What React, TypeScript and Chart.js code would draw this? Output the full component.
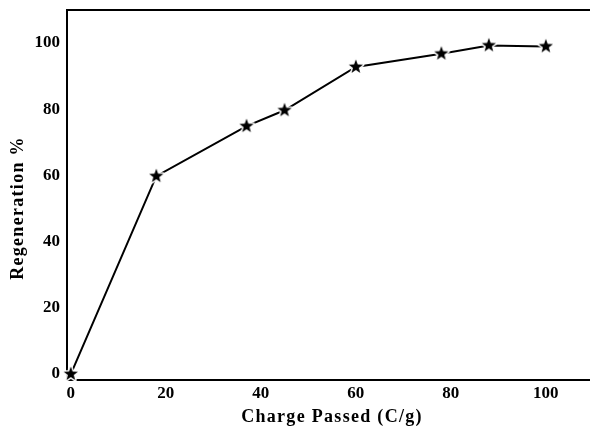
import React, { useEffect, useRef } from "react";
import { Chart, registerables } from "chart.js";

Chart.register(...registerables);

const CHARGE = [0, 18, 37, 45, 60, 78, 88, 100];
const REGEN = [0, 59.8, 74.9, 79.7, 92.8, 96.8, 99.3, 99.0];
const X_TICKS = [0, 20, 40, 60, 80, 100];
const Y_TICKS = [0, 20, 40, 60, 80, 100];
const X_TITLE = "Charge Passed (C/g)";
const Y_TITLE = "Regeneration %";

const FONT = '"Liberation Serif", "Times New Roman", serif';

function makeStar(): HTMLCanvasElement {
  const c = document.createElement("canvas");
  c.width = 20;
  c.height = 20;
  const ctx = c.getContext("2d")!;
  const cx = 10, cy = 10, R = 7.4, r = 3.1;
  ctx.beginPath();
  for (let i = 0; i < 10; i++) {
    const rad = i % 2 === 0 ? R : r;
    const a = -Math.PI / 2 + (i * Math.PI) / 5;
    const x = cx + rad * Math.cos(a);
    const y = cy + rad * Math.sin(a);
    if (i === 0) ctx.moveTo(x, y);
    else ctx.lineTo(x, y);
  }
  ctx.closePath();
  ctx.lineJoin = "round";
  ctx.strokeStyle = "#fff";
  ctx.lineWidth = 3;
  ctx.stroke();
  ctx.fillStyle = "#000";
  ctx.fill();
  return c;
}

const framePlugin = {
  id: "frameAndTitles",
  afterDraw(chart: any) {
    const { ctx, chartArea } = chart;
    ctx.save();
    ctx.strokeStyle = "#000";
    ctx.lineWidth = 2;
    ctx.beginPath();
    ctx.moveTo(chartArea.left - 1, chartArea.top);
    ctx.lineTo(chart.width, chartArea.top);
    ctx.stroke();

    ctx.fillStyle = "#000";
    ctx.font = `bold 18px ${FONT}`;
    (ctx as any).letterSpacing = "1.3px";
    ctx.textAlign = "center";
    ctx.textBaseline = "middle";
    ctx.fillText(X_TITLE, 332, 417);

    ctx.translate(18, 208);
    ctx.rotate(-Math.PI / 2);
    ctx.fillText(Y_TITLE, 0, 0);
    ctx.restore();
  },
};

function zeroPad(s: any) {
  s.paddingTop = 0;
  s.paddingBottom = 0;
  s.paddingLeft = 0;
  s.paddingRight = 0;
}

export default function App() {
  const ref = useRef<HTMLCanvasElement | null>(null);

  useEffect(() => {
    if (!ref.current) return;
    const star = makeStar();
    const tickFont = { family: FONT, size: 17, weight: "bold" as const };
    const chart = new Chart(ref.current, {
      type: "line",
      data: {
        datasets: [
          {
            data: CHARGE.map((x, i) => ({ x, y: REGEN[i] })),
            borderColor: "#000",
            borderWidth: 2,
            pointStyle: star as any,
            pointRadius: 7,
            tension: 0,
            fill: false,
            clip: false as any,
          },
        ],
      },
      options: {
        responsive: false,
        animation: false,
        layout: { autoPadding: false, padding: { top: 10, right: 0, left: 0, bottom: 0 } },
        plugins: {
          legend: { display: false },
          tooltip: { enabled: false },
        },
        scales: {
          x: {
            type: "linear",
            min: -0.8,
            max: 109.3,
            afterBuildTicks: (s: any) => {
              s.ticks = X_TICKS.map((v) => ({ value: v }));
            },
            afterFit: (s: any) => {
              s.height = 47;
              zeroPad(s);
            },
            grid: { display: false, drawTicks: false },
            border: { display: true, color: "#000", width: 2 },
            ticks: {
              color: "#000",
              font: tickFont,
              padding: 3,
              maxRotation: 0,
              autoSkip: false,
            },
          },
          y: {
            type: "linear",
            min: -1.8,
            max: 110,
            afterBuildTicks: (s: any) => {
              s.ticks = Y_TICKS.map((v) => ({ value: v }));
            },
            afterFit: (s: any) => {
              s.width = 67;
              zeroPad(s);
            },
            grid: { display: false, drawTicks: false },
            border: { display: true, color: "#000", width: 2 },
            ticks: {
              color: "#000",
              font: tickFont,
              padding: 7,
              autoSkip: false,
            },
          },
        },
      },
      plugins: [framePlugin],
    });
    return () => chart.destroy();
  }, []);

  return (
    <div style={{ position: "fixed", left: 0, top: 0, width: 590, height: 427, background: "#fff" }}>
      <canvas ref={ref} width={590} height={427} style={{ display: "block" }} />
    </div>
  );
}
